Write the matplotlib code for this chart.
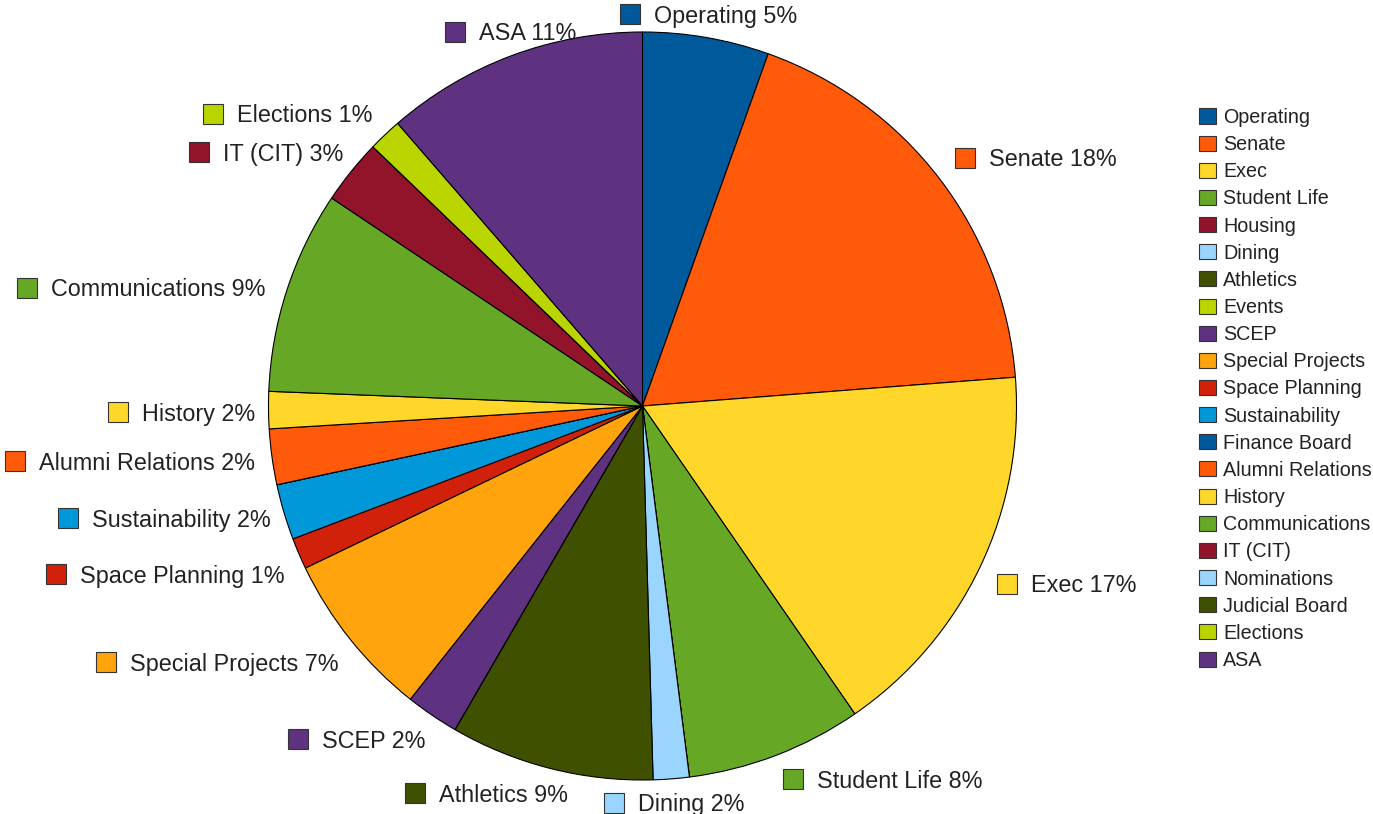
import numpy as np
import matplotlib
matplotlib.use("Agg")
from matplotlib import pyplot as plt
from matplotlib.patches import Rectangle

plt.rcParams['font.family'] = ['Liberation Sans', 'DejaVu Sans']

# legend order = wedge order, clockwise from 12 o'clock
names = ["Operating", "Senate", "Exec", "Student Life", "Housing", "Dining",
         "Athletics", "Events", "SCEP", "Special Projects", "Space Planning",
         "Sustainability", "Finance Board", "Alumni Relations", "History",
         "Communications", "IT (CIT)", "Nominations", "Judicial Board",
         "Elections", "ASA"]
shares = [5.45, 18.3, 16.6, 7.6, 0.0, 1.55,
          8.8, 0.0, 2.3, 7.2, 1.35,
          2.4, 0.0, 2.4, 1.6,
          8.75, 2.8, 0.0, 0.0,
          1.45, 11.35]
colors = ["#00599a", "#ff5a0a", "#ffd72a", "#66a825", "#91142b", "#99d5ff",
          "#3f5000", "#bad400", "#5e3181", "#ffa40c", "#d1210a",
          "#0098d8", "#00599a", "#ff5a0a", "#ffd72a",
          "#66a825", "#91142b", "#99d5ff", "#3f5000",
          "#bad400", "#5e3181"]

# where the data labels sit (figure pixels: left of marker box, vertical centre)
label_pos = {"Operating": (620, 14), "Senate": (955, 158), "Exec": (997, 584),
             "Student Life": (783, 779), "Dining": (604, 803),
             "Athletics": (405, 793), "SCEP": (288, 739),
             "Special Projects": (96, 662), "Space Planning": (46, 574),
             "Sustainability": (58, 518), "Alumni Relations": (5, 461),
             "History": (108, 412), "Communications": (17, 288),
             "IT (CIT)": (189, 152), "Elections": (203, 114), "ASA": (445, 32)}

W, H = 1373, 814
fig = plt.figure(figsize=(W/100, H/100), dpi=100)
fig.patch.set_facecolor("white")

cx, cy, R = 642.5, 406, 374
ax = fig.add_axes([(cx-R)/W, (H-cy-R)/H, 2*R/W, 2*R/H])
ax.pie(shares, colors=colors, startangle=90, counterclock=False, radius=1,
       wedgeprops=dict(edgecolor="black", linewidth=0.8))
ax.set_xlim(-1, 1)
ax.set_ylim(-1, 1)
ax.set_aspect("equal")
ax.axis("off")

txtcol = "#222222"
total = sum(shares)

def box(x, y, w, h, col):
    fig.patches.append(Rectangle((x/W, 1-(y+h/2)/H), w/W, h/H, transform=fig.transFigure,
                                 facecolor=col, edgecolor="#333333", linewidth=0.8))

# data labels
for name, v, c in zip(names, shares, colors):
    if v <= 0:
        continue
    x, y = label_pos[name]
    box(x, y, 20, 20, c)
    pct = int(round(v/total*100))
    fig.text((x+34)/W, 1-(y+2)/H, "%s %d%%" % (name, pct), fontsize=16.8, color=txtcol,
             ha="left", va="center")

# legend
for i in range(len(names)):
    y = 116 + i*27.15
    box(1199, y, 17, 15, colors[i])
    fig.text(1223/W, 1-(y+1.5)/H, names[i], fontsize=14.2, color=txtcol, ha="left", va="center")

fig.savefig("out.png", dpi=100)
